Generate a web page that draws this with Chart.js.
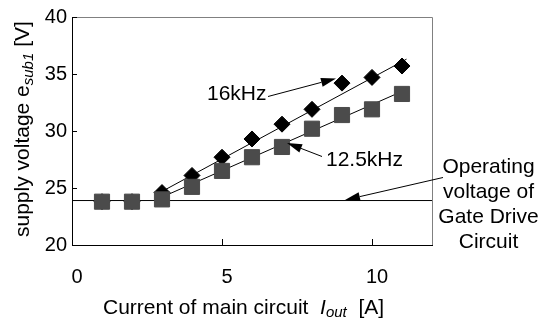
<!DOCTYPE html>
<html>
<head>
<meta charset="utf-8">
<script src="https://cdn.jsdelivr.net/npm/chart.js@4.4.1/dist/chart.umd.min.js"></script>
<style>
  body { margin: 0; background: #ffffff; }
  #wrap { width: 548px; height: 320px; }
</style>
</head>
<body>
<div id="wrap"><canvas id="grafico" width="548" height="320"></canvas></div>
<script>
// Datos
const currents = [1, 2, 3, 4, 5, 6, 7, 8, 9, 10, 11];
const volts16k = [23.8, 23.8, 24.6, 26.1, 27.7, 29.3, 30.6, 31.9, 34.2, 34.7, 35.7];
const volts125k = [23.8, 23.8, 24.0, 25.1, 26.5, 27.7, 28.6, 30.2, 31.4, 31.9, 33.25];

// Rectas de tendencia (extremos)
const trend16kX = [3.0, 11.15];
const trend16kY = [24.7, 36.3];
const trend125kX = [3.0, 10.85];
const trend125kY = [24.2, 33.3];

// Tensión de operación del circuito de disparo
const operatingX = [0, 12];
const operatingV = 23.9;

// Marcas de los ejes
const xTickValues = [0, 5, 10];
const yTickValues = [20, 25, 30, 35, 40];

const FONT = "'Liberation Sans', Arial, sans-serif";

const toPoints = (xs, ys) => xs.map((x, i) => ({ x: x, y: ys[i] }));

// Plugin para el marco, marcas interiores, títulos con subíndice y flechas
const decoracion = {
    id: 'decoracion',
    beforeDatasetsDraw(chart) {
        const { ctx, chartArea: a, scales: { x, y } } = chart;
        ctx.save();
        ctx.lineWidth = 1;
        // marco superior y derecho en gris
        ctx.strokeStyle = '#808080';
        ctx.beginPath();
        ctx.moveTo(a.left, a.top + 0.5);
        ctx.lineTo(a.right + 0.5, a.top + 0.5);
        ctx.lineTo(a.right + 0.5, a.bottom);
        ctx.stroke();
        // marcas hacia dentro
        ctx.strokeStyle = '#000000';
        ctx.beginPath();
        yTickValues.forEach(v => {
            const py = Math.round(y.getPixelForValue(v)) + 0.5;
            ctx.moveTo(a.left, py);
            ctx.lineTo(a.left + 5, py);
        });
        xTickValues.forEach(v => {
            const px = Math.round(x.getPixelForValue(v)) + 0.5;
            ctx.moveTo(px, a.bottom);
            ctx.lineTo(px, a.bottom - 6);
        });
        ctx.stroke();
        ctx.restore();
    },
    afterDraw(chart) {
        const { ctx } = chart;
        ctx.save();
        ctx.fillStyle = '#000000';
        ctx.textBaseline = 'alphabetic';
        ctx.textAlign = 'left';

        // dibuja trozos de texto seguidos (normal, cursiva, subíndice)
        const runs = (list, x0, y0) => {
            let cx = x0;
            list.forEach(r => {
                ctx.font = r.font;
                ctx.fillText(r.text, cx, y0 + (r.dy || 0));
                cx += ctx.measureText(r.text).width;
            });
        };

        // título eje X
        runs([
            { text: 'Current of main circuit  ', font: '21px ' + FONT },
            { text: 'I', font: 'italic 21px ' + FONT },
            { text: 'out', font: 'italic 15px ' + FONT, dy: 3 },
            { text: '  [A]', font: '21px ' + FONT }
        ], 103, 314);

        // título eje Y (girado)
        ctx.save();
        ctx.translate(29, 237);
        ctx.rotate(-Math.PI / 2);
        runs([
            { text: 'supply voltage e', font: '21px ' + FONT },
            { text: 'sub1', font: 'italic 15px ' + FONT, dy: 4 },
            { text: ' [V]', font: '21px ' + FONT }
        ], 0, 0);
        ctx.restore();

        // etiquetas
        ctx.font = '21px ' + FONT;
        ctx.fillText('16kHz', 207, 99.5);
        ctx.fillText('12.5kHz', 326, 166);
        ctx.textAlign = 'center';
        ['Operating', 'voltage of', 'Gate Drive', 'Circuit'].forEach((t, i) => {
            ctx.fillText(t, 488.5, 172.5 + i * 25.3);
        });

        // flechas
        const flecha = (x1, y1, x2, y2) => {
            const ang = Math.atan2(y2 - y1, x2 - x1);
            const len = 15, half = 4.5;
            const bx = x2 - len * Math.cos(ang), by = y2 - len * Math.sin(ang);
            ctx.strokeStyle = '#000000';
            ctx.lineWidth = 1;
            ctx.beginPath();
            ctx.moveTo(x1, y1);
            ctx.lineTo(bx, by);
            ctx.stroke();
            ctx.beginPath();
            ctx.moveTo(x2, y2);
            ctx.lineTo(bx + half * Math.sin(ang), by - half * Math.cos(ang));
            ctx.lineTo(bx - half * Math.sin(ang), by + half * Math.cos(ang));
            ctx.closePath();
            ctx.fill();
        };
        flecha(268, 96.5, 336, 78.5);
        flecha(322, 156.5, 287, 143);
        flecha(443, 177.5, 345, 200);

        ctx.restore();
    }
};

const ctx = document.getElementById('grafico').getContext('2d');

new Chart(ctx, {
    type: 'scatter',
    data: {
        datasets: [
            {
                label: '12.5kHz',
                data: toPoints(currents, volts125k),
                pointStyle: 'rect',
                pointRadius: 10.7,
                backgroundColor: '#4b4b4b',
                borderColor: '#4b4b4b',
                pointBorderWidth: 1,
                showLine: false,
                order: 0
            },
            {
                label: '16kHz',
                data: toPoints(currents, volts16k),
                pointStyle: 'rectRot',
                pointRadius: 8,
                backgroundColor: '#000000',
                borderColor: '#000000',
                pointBorderWidth: 1,
                showLine: false,
                order: 1
            },
            {
                label: 'tendencia 16kHz',
                data: toPoints(trend16kX, trend16kY),
                showLine: true,
                pointRadius: 0,
                borderColor: '#000000',
                borderWidth: 1,
                order: 2
            },
            {
                label: 'tendencia 12.5kHz',
                data: toPoints(trend125kX, trend125kY),
                showLine: true,
                pointRadius: 0,
                borderColor: '#000000',
                borderWidth: 1,
                order: 2
            },
            {
                label: 'tensión de operación',
                data: operatingX.map(x => ({ x: x, y: operatingV })),
                showLine: true,
                pointRadius: 0,
                borderColor: '#000000',
                borderWidth: 1,
                order: 3
            }
        ]
    },
    options: {
        responsive: false,
        animation: false,
        devicePixelRatio: 1,
        layout: { padding: { top: 11, right: 116, left: 0, bottom: 0 } },
        plugins: {
            legend: { display: false },
            tooltip: { enabled: false }
        },
        scales: {
            x: {
                type: 'linear',
                min: 0,
                max: 12,
                grid: { display: false, drawTicks: false },
                border: { display: true, color: '#000000', width: 1 },
                ticks: {
                    color: '#000000',
                    font: { family: FONT, size: 20 },
                    padding: 20,
                    labelOffset: 5,
                    maxRotation: 0
                },
                afterBuildTicks: s => { s.ticks = xTickValues.map(v => ({ value: v })); },
                afterFit: s => { s.height = 75; }
            },
            y: {
                type: 'linear',
                min: 20,
                max: 40,
                grid: { display: false, drawTicks: false },
                border: { display: true, color: '#000000', width: 1 },
                ticks: {
                    color: '#000000',
                    font: { family: FONT, size: 20 },
                    padding: 5
                },
                afterBuildTicks: s => { s.ticks = yTickValues.map(v => ({ value: v })); },
                afterFit: s => { s.width = 72; }
            }
        }
    },
    plugins: [decoracion]
});
</script>
</body>
</html>
